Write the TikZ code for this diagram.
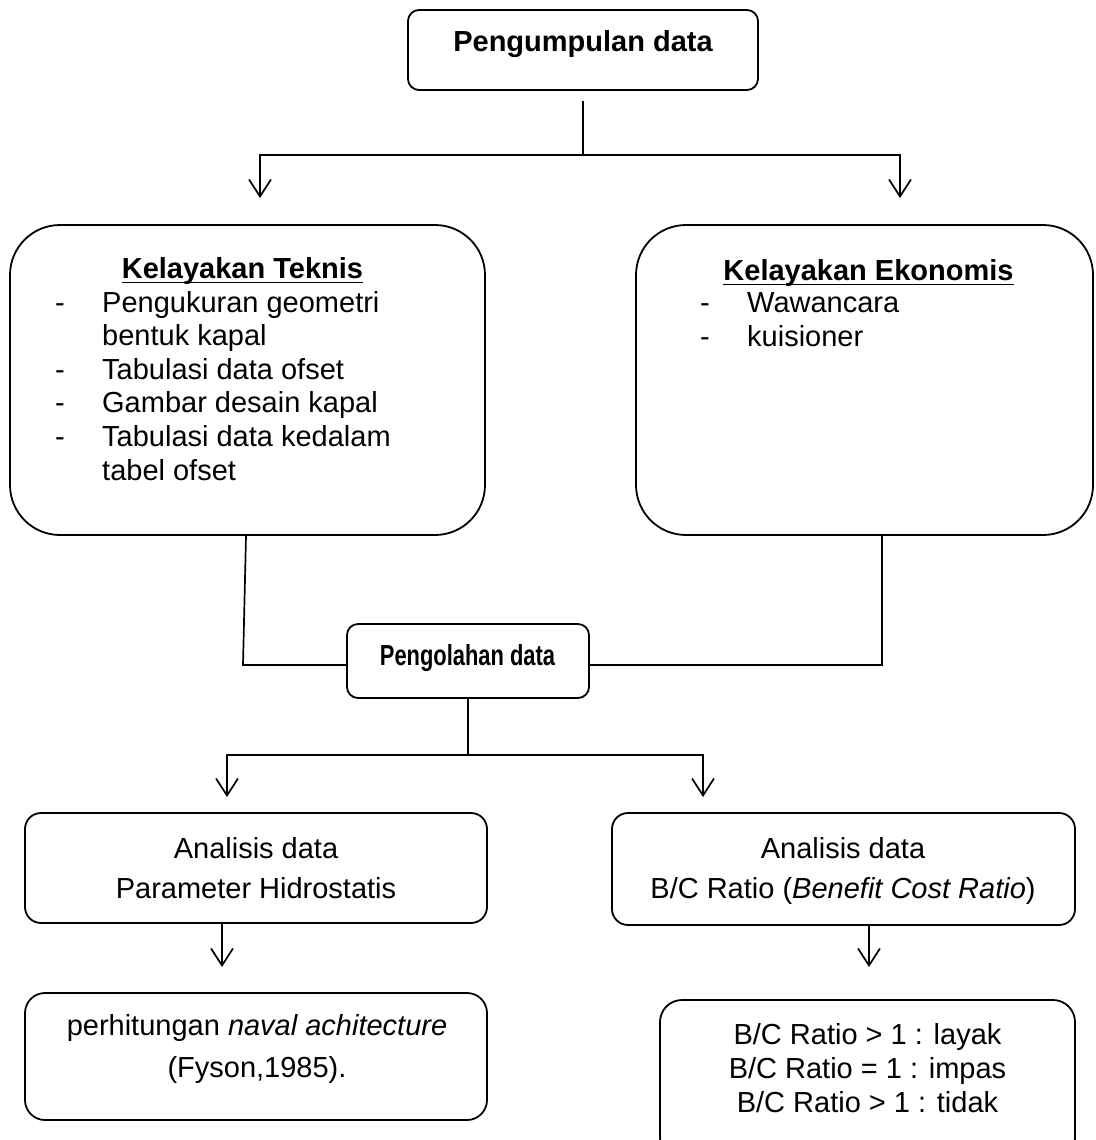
\documentclass[tikz,border=0pt]{standalone}
\usepackage{fontspec}
\usepackage{graphicx}
\setmainfont{Liberation Sans}
\usetikzlibrary{arrows.meta}
\begin{document}
\begin{tikzpicture}[x=1pt,y=-1pt,
  box/.style={draw, line width=1.8pt, inner sep=0pt},
  conn/.style={line width=1.7pt},
  arr/.style={line width=1.7pt, -{Straight Barb[length=17pt,width=22pt]}},
  txt/.style={inner sep=0pt, anchor=base, font=\fontsize{29}{34}\selectfont},
  btxt/.style={txt, font=\fontsize{29}{34}\selectfont\bfseries},
  uline/.style={line width=1.6pt}]
\fill[white] (0,0) rectangle (1095,1140);
\useasboundingbox (0,0) rectangle (1095,1140);
\clip (0,0) rectangle (1095,1140);

% boxes
\node[box, rounded corners=11pt, minimum width=350pt, minimum height=80pt] (top) at (583,50) {};
\node[box, rounded corners=50pt, minimum width=475pt, minimum height=310pt] (tek) at (247.5,380) {};
\node[box, rounded corners=50pt, minimum width=457pt, minimum height=310pt] (eko) at (864.5,380) {};
\node[box, rounded corners=11pt, minimum width=242pt, minimum height=74pt] (olah) at (468,661) {};
\node[box, rounded corners=16pt, minimum width=462pt, minimum height=110pt] (anL) at (256,868) {};
\node[box, rounded corners=16pt, minimum width=463pt, minimum height=112pt] (anR) at (843.5,869) {};
\node[box, rounded corners=20pt, minimum width=462pt, minimum height=127pt] (hsL) at (256,1056.5) {};
\node[box, rounded corners=22pt, minimum width=415pt, minimum height=160pt] (hsR) at (867.5,1080) {};

% texts
\node[btxt] (tTop) at (583,52) {Pengumpulan data};

\node[btxt] (tTek) at (242.5,278) {Kelayakan Teknis};
\draw[uline] ([yshift=-4.5pt]tTek.base west) -- ([yshift=-4.5pt]tTek.base east);
\node[txt, anchor=base west, font=\fontsize{29}{33.6}\selectfont] (lTek) at (55,312)
  {\begin{tabular}[t]{@{}p{47pt}@{}l@{}}-&Pengukuran geometri\\ &bentuk kapal\\ -&Tabulasi data ofset\\ -&Gambar desain kapal\\ -&Tabulasi data kedalam\\ &tabel ofset\end{tabular}};

\node[btxt] (tEko) at (868.5,280) {Kelayakan Ekonomis};
\draw[uline] ([yshift=-4.5pt]tEko.base west) -- ([yshift=-4.5pt]tEko.base east);
\node[txt, anchor=base west] (lEko) at (700,312)
  {\begin{tabular}[t]{@{}p{47pt}@{}l@{}}-&Wawancara\\ -&kuisioner\end{tabular}};

\node[btxt] (tOlah) at (467.5,665) {\scalebox{0.755}[1]{Pengolahan data}};

\node[txt] (tAnL) at (256,858) {\begin{tabular}[t]{@{}c@{}}Analisis data\\[6pt] Parameter Hidrostatis\end{tabular}};
\node[txt] (tAnR) at (843,858) {\begin{tabular}[t]{@{}c@{}}Analisis data\\[6pt] B/C Ratio (\textit{Benefit Cost Ratio})\end{tabular}};
\node[txt] (tHsL) at (257,1035) {\begin{tabular}[t]{@{}c@{}}perhitungan \textit{naval achitecture}\\[8pt] (Fyson,1985).\end{tabular}};
\node[txt] (tHsR) at (867.5,1044) {\begin{tabular}[t]{@{}c@{}}B/C Ratio > 1 : layak\\ B/C Ratio = 1 : impas\\ B/C Ratio > 1 : tidak\end{tabular}};

% connectors
\coordinate (j1) at (583,155);
\coordinate (a1) at (260,198);
\coordinate (a2) at (900,198);
\draw[conn] ([yshift=-10pt]top.south) -- (j1);
\draw[arr] (j1) -| (a1);
\draw[arr] (j1) -| (a2);

\coordinate (m1) at (243,665);
\coordinate (m2) at (882,665);
\draw[conn] ([xshift=-1.5pt]tek.south) -- (m1) -- (m1 -| olah.west);
\draw[conn] (eko.south -| m2) -- (m2) -- (m2 -| olah.east);

\coordinate (j2) at (468,755);
\coordinate (a3) at (227,797);
\coordinate (a4) at (703,797);
\draw[conn] (olah.south) -- (j2);
\draw[arr] (j2) -| (a3);
\draw[arr] (j2) -| (a4);

\coordinate (a5) at (222,967);
\coordinate (a6) at (869,967);
\draw[arr] (anL.south -| a5) -- (a5);
\draw[arr] (anR.south -| a6) -- (a6);
\end{tikzpicture}
\end{document}
